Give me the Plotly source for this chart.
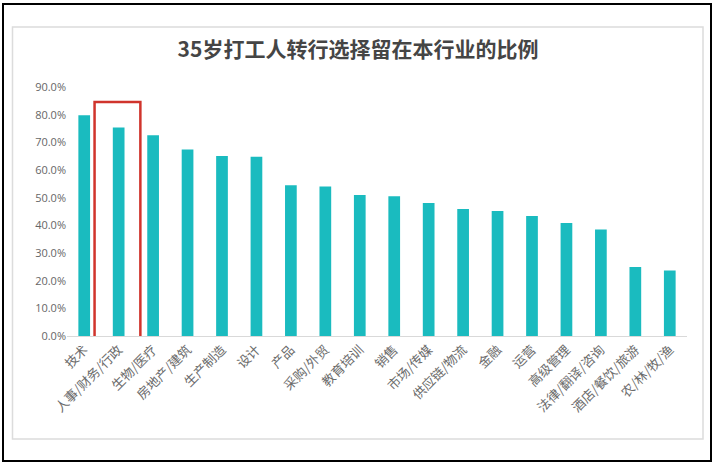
import plotly.graph_objects as go

categories = ["技术", "人事/财务/行政", "生物/医疗", "房地产/建筑", "生产制造", "设计", "产品",
              "采购/外贸", "教育培训", "销售", "市场/传媒", "供应链/物流", "金融", "运营",
              "高级管理", "法律/翻译/咨询", "酒店/餐饮/旅游", "农/林/牧/渔"]
values = [0.798, 0.754, 0.726, 0.674, 0.651, 0.648, 0.545, 0.540, 0.510, 0.505,
          0.481, 0.459, 0.452, 0.434, 0.408, 0.385, 0.249, 0.237]
tick_vals = [0.0, 0.1, 0.2, 0.3, 0.4, 0.5, 0.6, 0.7, 0.8, 0.9]
title_text = "35岁打工人转行选择留在本行业的比例"

W, H = 717, 467
ML, MR, MT, MB = 67, 30, 87, 131
PW, PH = W - ML - MR, H - MT - MB

def px(x):
    return (x - ML) / PW

def py(y):
    return (H - MB - y) / PH

FONT = "Open Sans, Noto Sans CJK SC, sans-serif"
CJK = "Noto Sans CJK SC, sans-serif"

fig = go.Figure()
fig.add_trace(go.Bar(x=categories, y=values, marker=dict(color="#1ABBBF", line=dict(width=0)),
                     hoverinfo="skip"))

fig.update_layout(
    width=W, height=H,
    margin=dict(l=ML, r=MR, t=MT, b=MB),
    paper_bgcolor="white", plot_bgcolor="white",
    bargap=0.66,
    showlegend=False,
    title=dict(text=title_text, x=358 / W, xref="container", xanchor="center",
               y=1 - 50 / H, yref="container", yanchor="middle",
               font=dict(family=CJK, size=21, color="#454545", weight="bold")),
    xaxis=dict(tickangle=-45, tickfont=dict(family=CJK, size=13, color="#6b6b6b"),
               showline=True, linecolor="#d9d9d9", linewidth=1, showgrid=False, ticks="",
               range=[-0.5, len(categories) - 0.5]),
    yaxis=dict(range=[0, 0.9], tickvals=tick_vals, tickformat=".1%", showgrid=False,
               zeroline=False, showline=False, ticks="",
               tickfont=dict(family=FONT, size=11, color="#666666")),
    shapes=[
        # outer black frame
        dict(type="rect", xref="paper", yref="paper", x0=px(3), x1=px(711), y0=py(461), y1=py(4),
             line=dict(color="black", width=2), layer="below"),
        # inner gray chart frame
        dict(type="rect", xref="paper", yref="paper", x0=px(12.5), x1=px(703), y0=py(439), y1=py(27),
             line=dict(color="#dcdcdc", width=1.5), layer="below"),
        # red highlight box
        dict(type="rect", xref="x", yref="y", x0=0.30, x1=1.63, y0=-0.04, y1=0.846,
             line=dict(color="#d0342c", width=2.5)),
    ],
)

fig.write_html("out.html", config={"displayModeBar": False},
               post_script="document.body.style.margin='0';document.body.style.overflow='hidden';")
